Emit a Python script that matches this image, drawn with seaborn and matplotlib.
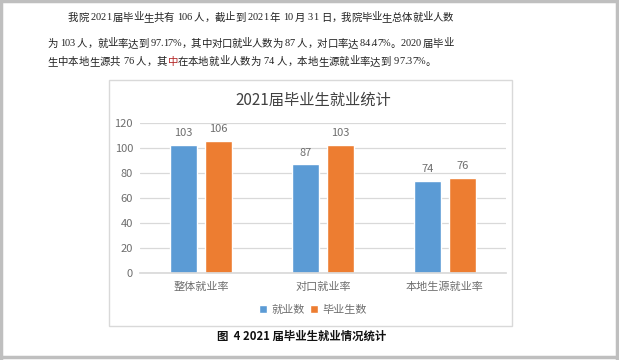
import matplotlib
matplotlib.use("Agg")
import matplotlib.pyplot as plt
from matplotlib import font_manager, ft2font
from matplotlib.patches import Rectangle, Patch
import pandas as pd
import seaborn as sns

# ============ 数据 ============
CATEGORIAS = ["整体就业率", "对口就业率", "本地生源就业率"]
JIUYE = [103, 87, 74]        # 就业数
BIYE = [106, 103, 76]        # 毕业生数
SERIES = ["就业数", "毕业生数"]
CORES = ["#5B9BD5", "#ED7D31"]
TITULO = "2021届毕业生就业统计"
LEGENDA_FIG = "图  4 2021 届毕业生就业情况统计"
LINHA1 = "我院 2021 届毕业生共有 106 人，截止到 2021 年 10 月 31 日，我院毕业生总体就业人数"
LINHA2 = "为 103 人，就业率达到 97.17%，其中对口就业人数为 87 人，对口率达 84.47%。2020 届毕业"
LINHA3 = "生中本地生源共 76 人，其中在本地就业人数为 74 人，本地生源就业率达到 97.37%。"
VERMELHO_IDX = 14  # o "中" em vermelho na linha 3
# ==============================

W, H = 619, 360
CINZA = "#6E6E6E"
FONTE_TXT = ["Liberation Serif", "Noto Sans CJK SC"]
FONTE_CJK = ["Noto Sans CJK SC", "DejaVu Sans"]
TAM_TXT = 7.5

sns.set_theme(style="white")
plt.rcParams["font.family"] = FONTE_CJK

df = pd.DataFrame({
    "cat": CATEGORIAS * 2,
    "val": JIUYE + BIYE,
    "serie": [SERIES[0]] * 3 + [SERIES[1]] * 3,
})

fig = plt.figure(figsize=(W / 100, H / 100), dpi=100)
fig.patch.set_facecolor("white")


def fx(px):
    return px / W


def fy(py):
    return 1 - py / H


# avanço e recuo esquerdo de cada caractere, lidos direto das fontes
_fontes = [ft2font.FT2Font(font_manager.findfont(f)) for f in FONTE_TXT]
for _f in _fontes:
    _f.set_size(TAM_TXT, 100)


def metrica(ch):
    for f in _fontes:
        if f.get_char_index(ord(ch)):
            g = f.load_char(ord(ch), flags=ft2font.LoadFlags.NO_HINTING)
            return g.linearHoriAdvance / 65536, max(0, g.horiBearingX / 64)
    return TAM_TXT * 100 / 72, 0


def escreve_linha(texto, x0, y, x1=None, vermelho=None):
    # escreve caractere a caractere, justificando até x1 (como no Word)
    met = [metrica(c) for c in texto]
    extra = 0
    if x1 is not None:
        extra = (x1 - x0 - sum(m[0] for m in met)) / (len(texto) - 1)
    x = x0
    for i, ch in enumerate(texto):
        if ch != " ":
            cor = "#B22222" if i == vermelho else "#222222"
            fig.text(fx(x + met[i][1]), fy(y), ch, fontsize=TAM_TXT, family=FONTE_TXT,
                     va="center", color=cor)
        x += met[i][0] + extra


# moldura da página
for (x0, y0, x1, y1) in [(1, 0, 1, H), (617, 0, 617, H), (0, 1, W, 1), (0, 357, W, 357)]:
    fig.add_artist(plt.Line2D([fx(x0), fx(x1)], [fy(y0), fy(y1)], color="#BFBFBF", lw=2.5))

# caixa do gráfico
fig.add_artist(Rectangle((fx(109), fy(326)), fx(512 - 109), (326 - 80) / H,
                         fill=False, edgecolor="#D9D9D9", lw=1))

# parágrafo
escreve_linha(LINHA1, 67, 18, 453)
escreve_linha(LINHA2, 47, 44, 453)
escreve_linha(LINHA3, 47, 62, vermelho=VERMELHO_IDX)

ax = fig.add_axes([fx(140), fy(273), fx(506 - 140), (273 - 123.3) / H])
sns.barplot(data=df, x="cat", y="val", hue="serie", palette=CORES, width=0.57, gap=0.22,
            saturation=1, ax=ax, legend=False)

ax.set_ylim(0, 120)
ax.set_yticks(range(0, 121, 20))
ax.grid(axis="y", color="#D9D9D9", lw=0.9)
ax.set_axisbelow(True)
for s in ["top", "right", "left"]:
    ax.spines[s].set_visible(False)
ax.spines["bottom"].set_color("#D9D9D9")
ax.set_xlabel("")
ax.set_ylabel("")
ax.tick_params(axis="both", length=0, labelsize=8, colors=CINZA, pad=5)
ax.tick_params(axis="x", pad=6)

for cont in ax.containers:
    ax.bar_label(cont, fontsize=8, color=CINZA, padding=5)

fig.text(fx(313), fy(100), TITULO, fontsize=11, ha="center", va="center", color="#404040")

handles = [Patch(facecolor=c, label=s) for c, s in zip(CORES, SERIES)]
fig.legend(handles=handles, loc="center", bbox_to_anchor=(fx(313), fy(310)), ncol=2, frameon=False,
           fontsize=8, handlelength=0.7, handleheight=0.7, handletextpad=0.4, columnspacing=0.5,
           labelcolor=CINZA)

fig.text(fx(302), fy(336), LEGENDA_FIG, fontsize=8.2, fontweight="bold", ha="center", va="center",
         color="#111111")

fig.savefig("out.png", dpi=100)
